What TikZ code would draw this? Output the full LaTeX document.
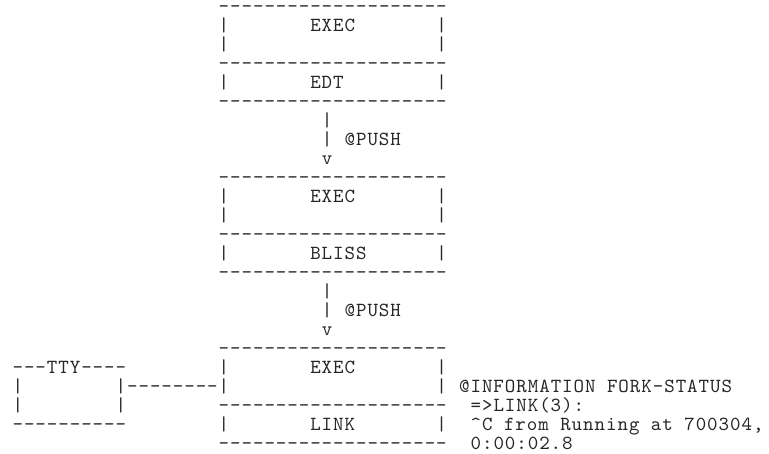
\documentclass[tikz,border=0pt]{standalone}
\usepackage{fontspec}
\setmonofont{lmmono10-regular.otf}[LetterSpace=4.75]
\usepackage{tikz}

\begin{document}
\begin{tikzpicture}[
    cell/.style={font=\ttfamily\fontsize{20pt}{19pt}\selectfont, text=black!85, text height=0.55em, text depth=0.2em, anchor=base west, inner sep=0pt, outer sep=0pt}
]
    \useasboundingbox (0pt,0pt) rectangle (769pt,-453pt);
    % one unit = one character cell
    \begin{scope}[shift={(12.6pt,-12.9pt)}, x=11.45pt, y=-19pt]
        % the three process stacks
        \foreach \r/\nm/\lbl in {0/A/EDT, 9/B/BLISS, 18/C/LINK} {
            \node[cell] (top\nm) at (18,\r) {--------------------};
            \node[cell] (execL\nm) at (18,\r+1) {|};
            \node[cell] (exec\nm) at (26,\r+1) {EXEC};
            \node[cell] (execR\nm) at (37,\r+1) {|};
            \node[cell] (padL\nm) at (18,\r+2) {|};
            \node[cell] (padR\nm) at (37,\r+2) {|};
            \node[cell] (mid\nm) at (18,\r+3) {--------------------};
            \node[cell] (progL\nm) at (18,\r+4) {|};
            \node[cell] (prog\nm) at (26,\r+4) {\lbl};
            \node[cell] (progR\nm) at (37,\r+4) {|};
            \node[cell] (bot\nm) at (18,\r+5) {--------------------};
        }
        % @PUSH arrows between stacks
        \foreach \r/\nm in {6/A, 15/B} {
            \node[cell] (stemA\nm) at (27,\r) {|};
            \node[cell] (stemB\nm) at (27,\r+1) {|};
            \node[cell] (push\nm) at (29,\r+1) {@PUSH};
            \node[cell] (tip\nm) at (27,\r+2) {v};
        }
        % terminal and its line
        \node[cell] (tty) at (0,19) {---TTY----};
        \node[cell] (ttyL1) at (0,20) {|};
        \node[cell] (ttyR1) at (9,20) {|};
        \node[cell] (ttyL2) at (0,21) {|};
        \node[cell] (ttyR2) at (9,21) {|};
        \node[cell] (ttyBot) at (0,22) {----------};
        \node[cell] (line) at (10,20) {--------};
        % status output
        \node[cell] (info) at (39,20) {@INFORMATION FORK-STATUS};
        \node[cell] (fork) at (40,21) {=>LINK(3):};
        \node[cell] (stat) at (40,22) {\textasciicircum C from Running at 700304,};
        \node[cell] (time) at (40,23) {0:00:02.8};
    \end{scope}
\end{tikzpicture}
\end{document}
